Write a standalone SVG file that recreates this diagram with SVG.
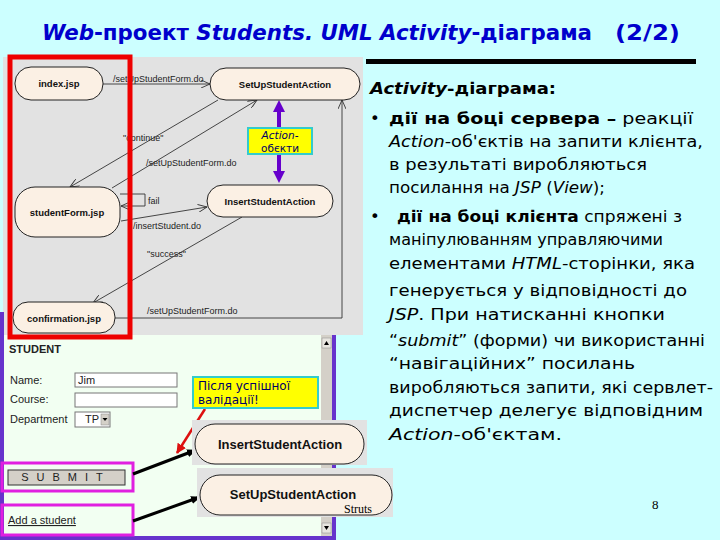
<svg xmlns="http://www.w3.org/2000/svg" width="720" height="540" viewBox="0 0 720 540">
<defs>
<style>
.node{fill:#FBF0E4;stroke:#222;stroke-width:1}
.nt{font-family:"Liberation Sans",Arial,sans-serif;font-weight:bold;font-size:9.5px;fill:#111;text-anchor:middle}
.nt2{font-family:"Liberation Sans",Arial,sans-serif;font-weight:bold;font-size:13px;fill:#111;text-anchor:middle}
.lbl{font-family:"Liberation Sans",Arial,sans-serif;font-size:9px;fill:#222}
.edge{fill:none;stroke:#333;stroke-width:0.9}
.body{font-family:"DejaVu Sans",Verdana,sans-serif;font-size:16.5px;fill:#000}
.b{font-weight:bold}
.i{font-style:italic}
.form{font-family:"Liberation Sans",Arial,sans-serif;font-size:11px;fill:#222}
.yb{fill:#FFFF00;stroke:#33CCCC;stroke-width:2}
.yt{font-family:"DejaVu Sans",Verdana,sans-serif;font-size:12px;fill:#000066}
.yt2{font-family:"DejaVu Sans",Verdana,sans-serif;font-size:10.5px;fill:#000066;text-anchor:middle}
.mag{fill:none;stroke:#E020E0;stroke-width:3}
.blk{stroke:#000;stroke-width:3;fill:none}
</style>
<marker id="open" markerWidth="10" markerHeight="8" refX="9" refY="4" orient="auto" markerUnits="userSpaceOnUse">
<path d="M0,0 L9,4 L0,8" fill="none" stroke="#333" stroke-width="0.9"/>
</marker>
<marker id="purp" markerWidth="12" markerHeight="12" refX="6" refY="6" orient="auto-start-reverse" markerUnits="userSpaceOnUse">
<path d="M0,0 L12,6 L0,12 Z" fill="#6600CC"/>
</marker>
<marker id="blkm" markerWidth="10" markerHeight="8" refX="9" refY="4" orient="auto" markerUnits="userSpaceOnUse">
<path d="M0,0 L10,4 L0,8 Z" fill="#000"/>
</marker>
<marker id="redm" markerWidth="10" markerHeight="10" refX="9" refY="5" orient="auto" markerUnits="userSpaceOnUse">
<path d="M0,0 L10,5 L0,10 Z" fill="#DD1111"/>
</marker>
</defs>
<rect x="0" y="0" width="720" height="540" fill="#CCFFFF"/>

<!-- title -->
<g font-family="'DejaVu Sans',Verdana,sans-serif" font-weight="bold" font-size="22" fill="#0000CC">
<text x="42" y="40" textLength="550" lengthAdjust="spacingAndGlyphs"><tspan font-style="italic">Web</tspan>-проект <tspan font-style="italic">Students.</tspan> <tspan font-style="italic">UML Activity</tspan>-діаграма</text>
<text x="615" y="40" textLength="65" lengthAdjust="spacingAndGlyphs">(2/2)</text>
</g>
<rect x="366" y="59" width="330" height="5" fill="#000"/>

<!-- diagram panel -->
<rect x="3" y="57" width="360" height="278" fill="#E2E2E2"/>

<!-- browser screenshot -->
<g id="browser">
<rect x="2" y="335" width="332" height="203" fill="#F2FFF2"/>
<rect x="0" y="312" width="4" height="228" fill="#6633CC"/>
<rect x="332" y="335" width="4" height="205" fill="#6633CC"/>
<rect x="0" y="536" width="336" height="4" fill="#6633CC"/>
<rect x="321" y="335" width="11" height="201" fill="#D4D0C8"/>
<rect x="322" y="338" width="9" height="10" fill="#E8E6E0" stroke="#888" stroke-width="0.5"/>
<path d="M324,345 L326.5,341 L329,345 Z" fill="#000"/>
<rect x="322" y="523" width="9" height="10" fill="#E8E6E0" stroke="#888" stroke-width="0.5"/>
<path d="M324,526 L326.5,530 L329,526 Z" fill="#000"/>
<text x="9" y="353" class="form" font-weight="bold">STUDENT</text>
<text x="10" y="384" class="form">Name:</text>
<rect x="75" y="373" width="102" height="14" fill="#fff" stroke="#777" stroke-width="1"/>
<text x="78" y="384" class="form">Jim</text>
<text x="10" y="403" class="form">Course:</text>
<rect x="75" y="393" width="102" height="14" fill="#fff" stroke="#777" stroke-width="1"/>
<text x="10" y="423" class="form">Department</text>
<rect x="75" y="412" width="35" height="15" fill="#fff" stroke="#777" stroke-width="1"/>
<text x="85" y="423" class="form">TP</text>
<rect x="101" y="414" width="8" height="11" fill="#D4D0C8" stroke="#888" stroke-width="0.5"/>
<path d="M102.5,418 L105,421 L107.5,418 Z" fill="#000"/>
<rect x="8" y="470" width="117" height="15" fill="#D4D0C8" stroke="#333" stroke-width="1"/>
<text x="66" y="481" class="form" text-anchor="middle" letter-spacing="8">SUBMIT</text>
<text x="8" y="524" class="form" fill="#663399" text-decoration="underline">Add a student</text>
<rect x="2" y="463" width="131" height="28" class="mag"/>
<rect x="2" y="505" width="131" height="30" class="mag"/>
</g>

<!-- connectors -->
<g id="connectors">
<line x1="103" y1="84" x2="210" y2="84" class="edge" marker-end="url(#open)"/>
<line x1="218" y1="100" x2="70" y2="187" class="edge" marker-end="url(#open)"/>
<line x1="112" y1="188" x2="257" y2="100" class="edge" marker-end="url(#open)"/>
<polyline points="120,194 145,194 145,206 121,206" class="edge" marker-end="url(#open)"/>
<line x1="121" y1="221" x2="207" y2="207" class="edge" marker-end="url(#open)"/>
<line x1="242" y1="217" x2="93" y2="303" class="edge" marker-end="url(#open)"/>
<polyline points="115,318 342,318 342,100" class="edge" marker-end="url(#open)"/>
<line x1="279" y1="106" x2="279" y2="177" stroke="#6600CC" stroke-width="4" marker-start="url(#purp)" marker-end="url(#purp)"/>
<line x1="205" y1="409" x2="177" y2="453" stroke="#DD1111" stroke-width="2.5" marker-end="url(#redm)"/>
<line x1="133" y1="474" x2="196" y2="450" class="blk" marker-end="url(#blkm)"/>
<line x1="133" y1="521" x2="200" y2="497" class="blk" marker-end="url(#blkm)"/>
</g>
<text x="113" y="82" class="lbl">/setUpStudentForm.do</text>
<text x="123" y="141" class="lbl">"continue"</text>
<text x="146" y="166" class="lbl">/setUpStudentForm.do</text>
<text x="148" y="204" class="lbl">fail</text>
<text x="133" y="229" class="lbl">/insertStudent.do</text>
<text x="147" y="257" class="lbl">"success"</text>
<text x="147" y="314" class="lbl">/setUpStudentForm.do</text>

<!-- nodes -->
<g id="n-index"><rect x="15" y="67" width="88" height="33" rx="16" class="node"/><text x="59" y="87" class="nt">index.jsp</text></g>
<g id="n-setup"><rect x="210" y="68" width="150" height="32" rx="16" class="node"/><text x="285" y="88" class="nt">SetUpStudentAction</text></g>
<g id="n-form"><rect x="15" y="187" width="105" height="50" rx="20" class="node"/><text x="67" y="216" class="nt">studentForm.jsp</text></g>
<g id="n-insert"><rect x="207" y="185" width="126" height="32" rx="16" class="node"/><text x="270" y="205" class="nt">InsertStudentAction</text></g>
<g id="n-confirm"><rect x="13" y="302" width="102" height="31" rx="15" class="node"/><text x="64" y="322" class="nt">confirmation.jsp</text></g>

<g id="action-label"><rect x="248" y="128" width="64" height="26" class="yb"/>
<text x="280" y="139" class="yt2" font-style="italic">Action-</text>
<text x="280" y="151.5" class="yt2">обєкти</text></g>

<rect x="10" y="57" width="120" height="280" fill="none" stroke="#EE0000" stroke-width="5"/>

<g id="validation-label"><rect x="193" y="377" width="125" height="31" class="yb"/>
<text x="198" y="390" class="yt">Після успішної</text>
<text x="198" y="404" class="yt">валідації!</text></g>

<g id="n-insert2"><rect x="192" y="420" width="175" height="45" fill="#E2E2E2"/><rect x="195" y="424" width="169" height="40" rx="20" class="node"/><text x="280" y="449" class="nt2">InsertStudentAction</text></g>
<g id="n-setup2"><rect x="197" y="468" width="196" height="49" fill="#E2E2E2"/><rect x="200" y="475" width="192" height="40" rx="20" class="node"/><text x="293" y="499" class="nt2">SetUpStudentAction</text></g>
<text x="344" y="513" font-family="'Liberation Serif',serif" font-size="12" fill="#000">Struts</text>
<text x="652" y="509" font-family="'Liberation Serif',serif" font-size="13" fill="#000">8</text>

<!-- right text -->
<g class="body">
<text x="370" y="94" font-weight="bold" textLength="186" lengthAdjust="spacingAndGlyphs"><tspan font-style="italic">Activity</tspan>-діаграма:</text>
<text x="370" y="124">•</text>
<text x="389" y="124" textLength="304" lengthAdjust="spacingAndGlyphs"><tspan class="b">дії на боці сервера –</tspan> реакції</text>
<text x="389" y="147" textLength="314" lengthAdjust="spacingAndGlyphs"><tspan class="i">Action</tspan>-об'єктів на запити клієнта,</text>
<text x="389" y="170" textLength="258" lengthAdjust="spacingAndGlyphs">в результаті виробляються</text>
<text x="389" y="193" textLength="216" lengthAdjust="spacingAndGlyphs">посилання на <tspan class="i">JSP</tspan> (<tspan class="i">View</tspan>);</text>
<text x="370" y="222">•</text>
<text x="397" y="222" textLength="285" lengthAdjust="spacingAndGlyphs"><tspan class="b">дії на боці клієнта</tspan> спряжені з</text>
<text x="389" y="245" textLength="274" lengthAdjust="spacingAndGlyphs">маніпулюванням управляючими</text>
<text x="389" y="269" textLength="306" lengthAdjust="spacingAndGlyphs">елементами <tspan class="i">HTML</tspan>-сторінки, яка</text>
<text x="389" y="296" textLength="298" lengthAdjust="spacingAndGlyphs">генерується у відповідності до</text>
<text x="389" y="320" textLength="276" lengthAdjust="spacingAndGlyphs"><tspan class="i">JSP</tspan>. При натисканні кнопки</text>
<text x="389" y="346" textLength="316" lengthAdjust="spacingAndGlyphs">“<tspan class="i">submit</tspan>” (форми) чи використанні</text>
<text x="389" y="369" textLength="246" lengthAdjust="spacingAndGlyphs">“навігаційних” посилань</text>
<text x="389" y="393" textLength="324" lengthAdjust="spacingAndGlyphs">виробляються запити, які сервлет-</text>
<text x="389" y="416" textLength="314" lengthAdjust="spacingAndGlyphs">диспетчер делегує відповідним</text>
<text x="389" y="440" textLength="173" lengthAdjust="spacingAndGlyphs"><tspan class="i">Action</tspan>-об'єктам.</text>
</g>
</svg>
